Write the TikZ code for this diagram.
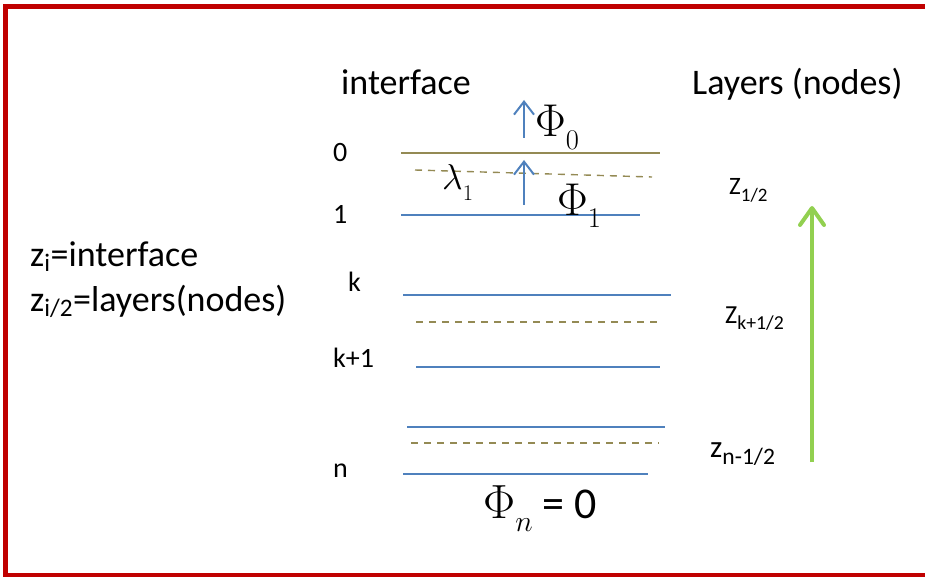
\RequirePackage{fix-cm}
\documentclass[tikz,border=0pt]{standalone}
\usepackage{fontspec}
\setmainfont{Carlito}
\usepackage{tikz}
\usetikzlibrary{arrows.meta}
\definecolor{lblue}{HTML}{4F81BD}
\definecolor{lolive}{HTML}{948A54}
\definecolor{lgreen}{HTML}{92D050}
\definecolor{bred}{HTML}{C00000}
\newcommand{\dn}[1]{\raisebox{-0.24em}{\scalebox{0.76}{#1}}}
\newcommand{\msub}[1]{\raisebox{-0.28em}{\scalebox{0.62}{$#1$}}}

\begin{document}
\begin{tikzpicture}[x=1pt,y=-1pt,
   lay/.style={draw=lblue, line width=1.6pt},
   ifc/.style={draw=lolive, line width=1.6pt},
   half/.style={draw=lolive, line width=1.4pt, dash pattern=on 7pt off 6pt},
   num/.style={font=\fontsize{28}{30}\selectfont, inner sep=0pt, anchor=base west},
   big/.style={font=\fontsize{36}{40}\selectfont, inner sep=0pt, anchor=base west},
   phi/.style={font=\fontsize{46}{50}\selectfont, inner sep=0pt, anchor=base west},
   barr/.style={lblue, line width=2pt, -{Straight Barb[length=13pt, width=20pt]}},
   garr/.style={lgreen, line width=4pt, -{Straight Barb[length=17pt, width=24pt, round]}}]
  \clip (0,0) rectangle (925,577);
  \draw[bred, line width=5pt] (5.5,6.5) rectangle (940,575.5);
  % headings
  \node[big] (hint) at (341,95) {interface};
  \node[big] (hlay) at (692,95) {Layers (nodes)};
  \node[big] (leg1) at (30,266) {z\textsubscript{i}=interface};
  \node[big] (leg2) at (30,311) {z\textsubscript{i/2}=layers(nodes)};
  % interface numbers
  \node[num] (n0) at (333,162) {0};
  \node[num] (n1) at (333,223) {1};
  \node[num] (nk) at (348,291) {k};
  \node[num] (nk1) at (333,367) {k+1};
  \node[num] (nn) at (333,477) {n};
  % interfaces and layers
  \draw[ifc] (401,153) -- (660,153);
  \draw[half] (415,170) -- (652,177);
  \draw[lay] (401,215) -- (640,215);
  \draw[lay] (403,295) -- (671,295);
  \draw[half] (416,322) -- (663,322);
  \draw[lay] (416,367) -- (660,367);
  \draw[lay] (407,427) -- (665,427);
  \draw[half] (411,443) -- (659,443);
  \draw[lay] (403,474) -- (648,474);
  % fluxes
  \coordinate (a0) at (524,138);
  \coordinate (b0) at (524,100);
  \coordinate (a1) at (524,205);
  \coordinate (b1) at (524,160);
  \draw[barr] (a0) -- (b0);
  \draw[barr] (a1) -- (b1);
  \node[phi] (phi0) at (535,137) {$\Phi$\msub{0}};
  \node[phi] (phi1) at (557,215) {$\Phi$\msub{1}};
  \node[phi, font=\fontsize{36}{40}\selectfont] (lam1) at (442,190) {$\lambda$\msub{1}};
  \node[phi, font=\fontsize{44}{48}\selectfont] (phin) at (483,518) {{\fontsize{48}{52}\selectfont$\Phi$\msub{n}} = 0};
  % layer labels
  \node[big, font=\fontsize{25}{29}\selectfont] (z1) at (729,195) {Z\dn{1/2}};
  \node[big, font=\fontsize{26}{30}\selectfont] (zk) at (725,323) {Z\dn{k+1/2}};
  \node[big, font=\fontsize{31}{34}\selectfont] (zn) at (710,457) {z\dn{n-1/2}};
  \coordinate (g0) at (812,462);
  \coordinate (g1) at (812,206);
  \draw[garr] (g0) -- (g1);
\end{tikzpicture}
\end{document}
